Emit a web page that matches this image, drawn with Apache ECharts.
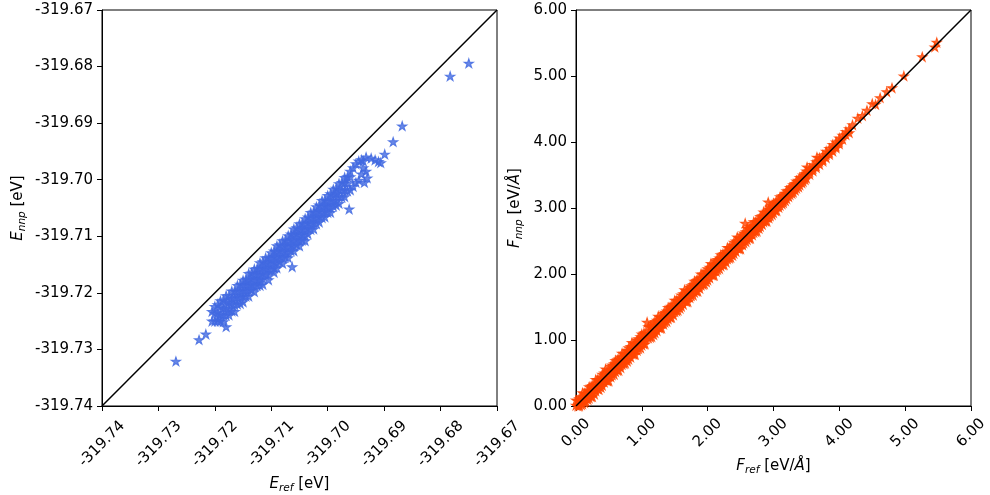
<!DOCTYPE html>
<html><head><meta charset="utf-8">
<script src="https://cdn.jsdelivr.net/npm/echarts@6.0.0/dist/echarts.min.js"></script>
<style>html,body{margin:0;padding:0;background:#fff}#c{width:990px;height:495px}</style>
</head><body><div id="c"></div>
<script>
const energyRange = [-319.74, -319.67];
const forceRange = [0, 6];
const energyTickStep = 0.01;
const forceTickStep = 1;

const energyPoints = [
[-319.7269,-319.7321],[-319.7228,-319.7283],[-319.7216,-319.7273],[-319.7180,-319.7260],[-319.7194,-319.7246],
[-319.7205,-319.7233],[-319.7205,-319.7250],
[-319.7200,-319.7224],[-319.7200,-319.7236],[-319.7200,-319.7250],
[-319.7195,-319.7221],[-319.7195,-319.7235],[-319.7195,-319.7250],
[-319.7190,-319.7214],[-319.7190,-319.7225],[-319.7190,-319.7238],[-319.7190,-319.7250],
[-319.7185,-319.7213],[-319.7185,-319.7227],[-319.7185,-319.7239],[-319.7185,-319.7251],
[-319.7180,-319.7205],[-319.7180,-319.7216],[-319.7180,-319.7228],[-319.7180,-319.7240],
[-319.7175,-319.7205],[-319.7175,-319.7217],[-319.7175,-319.7229],[-319.7175,-319.7239],
[-319.7170,-319.7197],[-319.7170,-319.7210],[-319.7170,-319.7220],[-319.7170,-319.7232],
[-319.7165,-319.7197],[-319.7165,-319.7209],[-319.7165,-319.7221],[-319.7165,-319.7233],
[-319.7160,-319.7187],[-319.7160,-319.7198],[-319.7160,-319.7208],[-319.7160,-319.7220],
[-319.7155,-319.7185],[-319.7155,-319.7197],[-319.7155,-319.7208],[-319.7155,-319.7219],
[-319.7150,-319.7178],[-319.7150,-319.7186],[-319.7150,-319.7196],[-319.7150,-319.7206],[-319.7150,-319.7216],
[-319.7145,-319.7176],[-319.7145,-319.7186],[-319.7145,-319.7196],[-319.7145,-319.7206],
[-319.7140,-319.7166],[-319.7140,-319.7176],[-319.7140,-319.7186],[-319.7140,-319.7196],[-319.7140,-319.7206],
[-319.7135,-319.7165],[-319.7135,-319.7175],[-319.7135,-319.7185],[-319.7135,-319.7195],
[-319.7130,-319.7158],[-319.7130,-319.7168],[-319.7130,-319.7178],[-319.7130,-319.7188],[-319.7130,-319.7198],
[-319.7125,-319.7157],[-319.7125,-319.7167],[-319.7125,-319.7177],[-319.7125,-319.7187],
[-319.7120,-319.7147],[-319.7120,-319.7157],[-319.7120,-319.7167],[-319.7120,-319.7177],[-319.7120,-319.7187],
[-319.7115,-319.7145],[-319.7115,-319.7155],[-319.7115,-319.7165],[-319.7115,-319.7175],[-319.7115,-319.7185],
[-319.7110,-319.7138],[-319.7110,-319.7148],[-319.7110,-319.7158],[-319.7110,-319.7168],
[-319.7105,-319.7138],[-319.7105,-319.7148],[-319.7105,-319.7158],[-319.7105,-319.7168],[-319.7105,-319.7177],
[-319.7100,-319.7129],[-319.7100,-319.7139],[-319.7100,-319.7149],[-319.7100,-319.7159],
[-319.7095,-319.7126],[-319.7095,-319.7136],[-319.7095,-319.7146],[-319.7095,-319.7156],[-319.7095,-319.7164],
[-319.7090,-319.7117],[-319.7090,-319.7127],[-319.7090,-319.7137],[-319.7090,-319.7147],[-319.7090,-319.7156],
[-319.7085,-319.7115],[-319.7085,-319.7125],[-319.7085,-319.7135],[-319.7085,-319.7145],
[-319.7080,-319.7108],[-319.7080,-319.7118],[-319.7080,-319.7128],[-319.7080,-319.7138],[-319.7080,-319.7148],
[-319.7075,-319.7107],[-319.7075,-319.7117],[-319.7075,-319.7127],[-319.7075,-319.7137],
[-319.7070,-319.7099],[-319.7070,-319.7109],[-319.7070,-319.7119],[-319.7070,-319.7129],[-319.7070,-319.7138],
[-319.7065,-319.7096],[-319.7065,-319.7106],[-319.7065,-319.7116],[-319.7065,-319.7126],
[-319.7063,-319.7154],
[-319.7060,-319.7087],[-319.7060,-319.7097],[-319.7060,-319.7107],[-319.7060,-319.7117],[-319.7060,-319.7126],
[-319.7055,-319.7085],[-319.7055,-319.7095],[-319.7055,-319.7105],[-319.7055,-319.7115],
[-319.7050,-319.7078],[-319.7050,-319.7088],[-319.7050,-319.7098],[-319.7050,-319.7108],[-319.7050,-319.7117],
[-319.7045,-319.7077],[-319.7045,-319.7087],[-319.7045,-319.7097],[-319.7045,-319.7107],
[-319.7040,-319.7069],[-319.7040,-319.7079],[-319.7040,-319.7089],[-319.7040,-319.7099],[-319.7040,-319.7108],
[-319.7035,-319.7066],[-319.7035,-319.7076],[-319.7035,-319.7086],[-319.7035,-319.7096],
[-319.7030,-319.7058],[-319.7030,-319.7068],[-319.7030,-319.7078],[-319.7030,-319.7088],
[-319.7025,-319.7057],[-319.7025,-319.7067],[-319.7025,-319.7077],[-319.7025,-319.7087],
[-319.7020,-319.7048],[-319.7020,-319.7058],[-319.7020,-319.7068],[-319.7020,-319.7078],
[-319.7015,-319.7045],[-319.7015,-319.7055],[-319.7015,-319.7065],[-319.7015,-319.7075],
[-319.7010,-319.7037],[-319.7010,-319.7047],[-319.7010,-319.7057],[-319.7010,-319.7067],
[-319.7005,-319.7036],[-319.7005,-319.7046],[-319.7005,-319.7056],[-319.7005,-319.7066],
[-319.7000,-319.7028],[-319.7000,-319.7038],[-319.7000,-319.7048],[-319.7000,-319.7058],
[-319.6995,-319.7025],[-319.6995,-319.7037],[-319.6995,-319.7049],[-319.6995,-319.7058],
[-319.6990,-319.7017],[-319.6990,-319.7027],[-319.6990,-319.7037],[-319.6990,-319.7047],
[-319.6985,-319.7015],[-319.6985,-319.7025],[-319.6985,-319.7037],[-319.6985,-319.7045],
[-319.6980,-319.7007],[-319.6980,-319.7018],[-319.6980,-319.7030],[-319.6980,-319.7042],
[-319.6975,-319.7005],[-319.6975,-319.7019],[-319.6975,-319.7031],
[-319.6970,-319.6996],[-319.6970,-319.7006],[-319.6970,-319.7018],[-319.6970,-319.7030],
[-319.6965,-319.6995],[-319.6965,-319.7007],[-319.6965,-319.7020],
[-319.6962,-319.7052],
[-319.6960,-319.6985],[-319.6960,-319.6995],[-319.6960,-319.7018],
[-319.6955,-319.6979],[-319.6955,-319.7012],
[-319.6950,-319.6972],[-319.6950,-319.7005],
[-319.6945,-319.6967],[-319.6945,-319.7001],
[-319.6940,-319.6965],[-319.6940,-319.6990],
[-319.6937,-319.6967],[-319.6937,-319.6979],
[-319.6932,-319.6985],[-319.6932,-319.6960],[-319.6930,-319.6997],[-319.6935,-319.7005],
[-319.6923,-319.6962],[-319.6916,-319.6965],[-319.6910,-319.6968],[-319.6906,-319.6970],
[-319.6899,-319.6955],[-319.6884,-319.6933],[-319.6868,-319.6905],
[-319.6783,-319.6817],[-319.6750,-319.6794]
];

const forcePoints = [
[0.00,0.09],[0.00,0.01],
[0.03,0.08],[0.03,0.00],
[0.05,0.11],[0.05,0.02],[0.05,0.00],
[0.08,0.14],[0.08,0.02],
[0.10,0.20],[0.10,0.09],[0.10,0.03],
[0.13,0.19],[0.13,0.05],
[0.15,0.19],[0.15,0.12],[0.15,0.07],
[0.18,0.24],[0.18,0.10],
[0.20,0.29],[0.20,0.21],[0.20,0.12],
[0.23,0.30],[0.23,0.14],
[0.25,0.31],[0.25,0.22],[0.25,0.14],
[0.28,0.33],[0.28,0.18],
[0.30,0.40],[0.30,0.29],[0.30,0.23],
[0.33,0.40],[0.33,0.26],
[0.35,0.39],[0.35,0.30],[0.35,0.25],
[0.38,0.44],[0.38,0.28],
[0.40,0.48],[0.40,0.42],[0.40,0.31],
[0.43,0.50],[0.43,0.36],
[0.45,0.56],[0.45,0.43],[0.45,0.39],
[0.48,0.52],[0.48,0.38],
[0.50,0.55],[0.50,0.46],[0.50,0.38],
[0.53,0.60],[0.53,0.44],
[0.55,0.62],[0.55,0.55],[0.55,0.47],
[0.58,0.64],[0.58,0.48],
[0.60,0.69],[0.60,0.61],[0.60,0.52],
[0.63,0.70],[0.63,0.54],
[0.65,0.71],[0.65,0.62],[0.65,0.54],
[0.68,0.74],[0.68,0.58],
[0.70,0.80],[0.70,0.69],[0.70,0.63],
[0.73,0.80],[0.73,0.64],
[0.75,0.79],[0.75,0.70],[0.75,0.65],
[0.78,0.84],[0.78,0.68],
[0.80,0.88],[0.80,0.82],[0.80,0.71],
[0.83,0.90],[0.83,0.74],
[0.85,0.96],[0.85,0.83],[0.85,0.79],
[0.88,0.94],[0.88,0.78],
[0.90,0.95],[0.90,0.86],[0.90,0.78],
[0.93,1.00],[0.93,0.84],
[0.95,1.02],[0.95,0.95],[0.95,0.87],
[0.98,1.05],[0.98,0.88],
[1.00,1.09],[1.00,1.01],[1.00,0.92],
[1.03,1.10],[1.03,0.94],
[1.05,1.11],[1.05,1.02],[1.05,0.94],
[1.08,1.27],
[1.10,1.20],[1.10,1.09],[1.10,1.03],
[1.13,1.20],[1.13,1.04],
[1.15,1.19],[1.15,1.10],[1.15,1.05],
[1.18,1.25],[1.18,1.08],
[1.20,1.28],[1.20,1.22],[1.20,1.11],
[1.23,1.30],[1.23,1.14],
[1.25,1.36],[1.25,1.23],[1.25,1.19],
[1.28,1.34],[1.28,1.18],
[1.30,1.35],[1.30,1.26],[1.30,1.18],
[1.33,1.40],[1.33,1.24],
[1.35,1.42],[1.35,1.35],[1.35,1.27],
[1.38,1.44],[1.38,1.28],
[1.40,1.49],[1.40,1.41],[1.40,1.32],
[1.43,1.50],[1.43,1.34],
[1.45,1.51],[1.45,1.42],[1.45,1.34],
[1.48,1.54],[1.48,1.38],
[1.50,1.60],[1.50,1.49],[1.50,1.43],
[1.53,1.60],[1.53,1.44],
[1.55,1.59],[1.55,1.50],[1.55,1.45],
[1.58,1.64],[1.58,1.48],
[1.60,1.68],[1.60,1.62],[1.60,1.51],
[1.63,1.70],[1.63,1.54],
[1.65,1.76],[1.65,1.63],[1.65,1.59],
[1.68,1.74],[1.68,1.58],
[1.70,1.75],[1.70,1.66],[1.70,1.58],
[1.73,1.80],[1.73,1.64],
[1.75,1.82],[1.75,1.75],[1.75,1.67],
[1.78,1.84],[1.78,1.68],
[1.80,1.89],[1.80,1.81],[1.80,1.72],
[1.83,1.90],[1.83,1.74],
[1.85,1.91],[1.85,1.82],[1.85,1.74],
[1.88,1.94],[1.88,1.78],
[1.90,2.00],[1.90,1.89],[1.90,1.83],
[1.93,2.00],[1.93,1.84],
[1.95,1.99],[1.95,1.90],[1.95,1.85],
[1.98,2.04],[1.98,1.88],
[2.00,2.08],[2.00,2.02],[2.00,1.91],
[2.03,2.10],[2.03,1.94],
[2.05,2.16],[2.05,2.03],[2.05,1.99],
[2.08,2.14],[2.08,1.98],
[2.10,2.15],[2.10,2.06],[2.10,1.98],
[2.13,2.20],[2.13,2.04],
[2.15,2.22],[2.15,2.15],[2.15,2.07],
[2.18,2.24],[2.18,2.08],
[2.20,2.29],[2.20,2.21],[2.20,2.12],
[2.23,2.30],[2.23,2.14],
[2.25,2.31],[2.25,2.22],[2.25,2.14],
[2.28,2.34],[2.28,2.18],
[2.30,2.40],[2.30,2.29],[2.30,2.23],
[2.33,2.40],[2.33,2.24],
[2.35,2.39],[2.35,2.30],[2.35,2.25],
[2.38,2.44],[2.38,2.28],
[2.40,2.48],[2.40,2.42],[2.40,2.31],
[2.43,2.50],[2.43,2.34],
[2.45,2.56],[2.45,2.43],[2.45,2.39],
[2.48,2.54],[2.48,2.38],
[2.50,2.55],[2.50,2.46],[2.50,2.38],
[2.53,2.59],[2.53,2.44],
[2.55,2.62],[2.55,2.55],[2.55,2.47],
[2.57,2.77],
[2.58,2.64],[2.58,2.49],
[2.60,2.69],[2.60,2.61],[2.60,2.52],
[2.63,2.69],[2.63,2.54],
[2.65,2.71],[2.65,2.62],[2.65,2.54],
[2.68,2.73],[2.68,2.59],
[2.70,2.79],[2.70,2.69],[2.70,2.63],
[2.73,2.79],[2.73,2.64],
[2.75,2.79],[2.75,2.70],[2.75,2.65],
[2.78,2.83],[2.78,2.69],
[2.80,2.87],[2.80,2.81],[2.80,2.72],
[2.83,2.88],[2.83,2.75],
[2.85,2.94],[2.85,2.83],[2.85,2.79],
[2.88,2.93],[2.88,2.80],
[2.90,2.95],[2.90,2.86],[2.90,2.80],
[2.92,3.09],
[2.93,2.98],[2.93,2.85],
[2.95,3.01],[2.95,2.95],[2.95,2.88],
[2.98,3.03],[2.98,2.90],
[3.00,3.07],[3.00,3.01],[3.00,2.93],
[3.03,3.08],[3.03,2.96],
[3.05,3.10],[3.05,3.03],[3.05,2.96],
[3.08,3.12],[3.08,3.01],
[3.10,3.17],[3.10,3.09],[3.10,3.04],
[3.13,3.18],[3.13,3.06],
[3.15,3.19],[3.15,3.11],[3.15,3.08],
[3.18,3.22],[3.18,3.11],
[3.20,3.26],[3.20,3.21],[3.20,3.14],
[3.23,3.27],[3.23,3.17],
[3.25,3.31],[3.25,3.24],[3.25,3.20],
[3.28,3.32],[3.28,3.22],
[3.30,3.35],[3.30,3.29],[3.30,3.24],
[3.33,3.37],[3.33,3.27],
[3.35,3.41],[3.35,3.35],[3.35,3.30],
[3.38,3.42],[3.38,3.32],
[3.40,3.46],[3.40,3.40],[3.40,3.35],
[3.43,3.47],[3.43,3.38],
[3.45,3.50],[3.45,3.44],[3.45,3.40],
[3.48,3.52],[3.48,3.43],
[3.50,3.56],[3.50,3.51],[3.50,3.45],
[3.51,3.62],
[3.55,3.60],[3.55,3.55],[3.55,3.51],
[3.60,3.66],[3.60,3.60],[3.60,3.56],
[3.65,3.70],[3.65,3.64],[3.65,3.61],
[3.66,3.77],
[3.70,3.76],[3.70,3.71],[3.70,3.66],
[3.75,3.80],[3.75,3.74],[3.75,3.71],
[3.80,3.86],[3.80,3.81],[3.80,3.76],
[3.85,3.90],[3.85,3.84],[3.85,3.81],
[3.90,3.96],[3.90,3.91],[3.90,3.86],
[3.95,4.00],[3.95,3.94],[3.95,3.91],
[4.00,4.06],[4.00,4.01],[4.00,3.97],
[4.05,4.10],[4.05,4.04],
[4.10,4.16],[4.10,4.11],
[4.15,4.20],[4.15,4.14],
[4.20,4.26],
[4.28,4.36],[4.35,4.40],[4.42,4.48],[4.50,4.58],[4.55,4.57],
[4.62,4.67],[4.72,4.76],[4.80,4.82],[4.98,5.00],[5.26,5.29],
[5.45,5.44],[5.48,5.51]
];

const energyDiagonal = [[energyRange[0], energyRange[0]], [energyRange[1], energyRange[1]]];
const forceDiagonal = [[forceRange[0], forceRange[0]], [forceRange[1], forceRange[1]]];

const FONT = 'DejaVu Sans';
const STAR = 'path://M100,0L122.45,69.1L195.1,69.1L136.3,111.8L158.8,180.9L100,138.2L41.2,180.9L63.7,111.8L4.9,69.1L77.55,69.1Z';

const nameStyle = {
  color: '#000', fontFamily: FONT, fontSize: 15,
  rich: {
    i: { fontStyle: 'italic', fontSize: 15, fontFamily: FONT, color: '#000' },
    s: { fontStyle: 'italic', fontSize: 10.5, fontFamily: FONT, color: '#000', padding: [8, 0, 0, 0] }
  }
};

function axis(opts) {
  return Object.assign({
    type: 'value',
    axisLine: { show: true, onZero: false, lineStyle: { color: '#000', width: 1 } },
    axisTick: { show: true, length: 5, lineStyle: { color: '#000', width: 1 } },
    splitLine: { show: false },
    nameLocation: 'middle',
    nameTextStyle: nameStyle
  }, opts);
}

const xLabel = (margin) => ({
  color: '#000', fontFamily: FONT, fontSize: 15, rotate: 45,
  align: 'center', verticalAlign: 'middle', margin: margin,
  formatter: v => Number(v).toFixed(2), showMinLabel: true, showMaxLabel: true
});
const yLabel = {
  color: '#000', fontFamily: FONT, fontSize: 15, margin: 9,
  formatter: v => Number(v).toFixed(2), showMinLabel: true, showMaxLabel: true
};

const option = {
  animation: false,
  backgroundColor: '#fff',
  grid: [
    { left: 102, top: 10, width: 395, height: 396, show: true, borderColor: '#000', borderWidth: 1,
      backgroundColor: 'transparent', containLabel: false, outerBoundsMode: 'none' },
    { left: 576, top: 10, width: 395, height: 396, show: true, borderColor: '#000', borderWidth: 1,
      backgroundColor: 'transparent', containLabel: false, outerBoundsMode: 'none' }
  ],
  xAxis: [
    axis({ gridIndex: 0, min: energyRange[0], max: energyRange[1], interval: energyTickStep,
      name: '{i|E}{s|ref} [eV]', nameGap: 66, axisLabel: xLabel(38) }),
    axis({ gridIndex: 1, min: forceRange[0], max: forceRange[1], interval: forceTickStep,
      name: '{i|F}{s|ref} [eV/{i|Å}]', nameGap: 51, axisLabel: xLabel(27) })
  ],
  yAxis: [
    axis({ gridIndex: 0, min: energyRange[0], max: energyRange[1], interval: energyTickStep,
      name: '{i|E}{s|nnp} [eV]', nameGap: 74, nameRotate: 90, axisLabel: yLabel }),
    axis({ gridIndex: 1, min: forceRange[0], max: forceRange[1], interval: forceTickStep,
      name: '{i|F}{s|nnp} [eV/{i|Å}]', nameGap: 51, nameRotate: 90, axisLabel: yLabel })
  ],
  series: [
    { type: 'scatter', xAxisIndex: 0, yAxisIndex: 0, data: energyPoints, symbol: STAR,
      symbolSize: [9.5, 9], itemStyle: { color: '#4169E1', borderColor: '#4169E1', borderWidth: 1 }, z: 2, silent: true },
    { type: 'line', xAxisIndex: 0, yAxisIndex: 0, data: energyDiagonal, symbol: 'none',
      lineStyle: { color: '#000', width: 1.5 }, z: 3, silent: true },
    { type: 'scatter', xAxisIndex: 1, yAxisIndex: 1, data: forcePoints, symbol: STAR,
      symbolSize: [9.5, 9], itemStyle: { color: '#FF4500', borderColor: '#FF4500', borderWidth: 1 }, z: 2, silent: true },
    { type: 'line', xAxisIndex: 1, yAxisIndex: 1, data: forceDiagonal, symbol: 'none',
      lineStyle: { color: '#000', width: 1.5 }, z: 3, silent: true }
  ]
};

const chart = echarts.init(document.getElementById('c'), null, { renderer: 'canvas' });
chart.setOption(option);
</script>
</body></html>
